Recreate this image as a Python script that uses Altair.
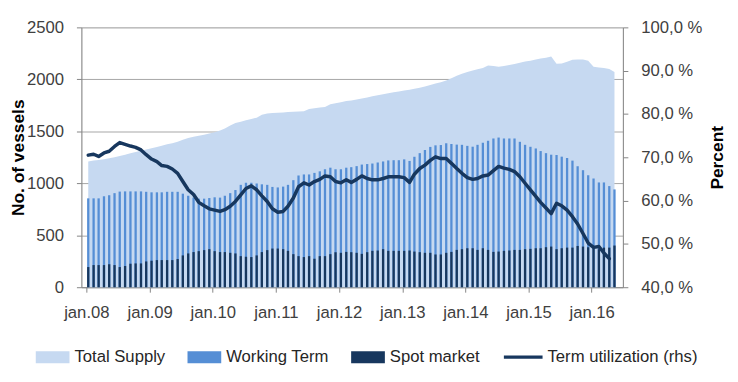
import altair as alt
import pandas as pd

# ---- data (monthly, jan.08 .. may.16) ----
total_supply = [
    1210, 1218, 1225, 1232, 1240, 1250, 1262, 1275, 1288, 1300, 1312, 1325,
    1338, 1350, 1362, 1375, 1385, 1400, 1420, 1435, 1448, 1458, 1468, 1478,
    1490, 1508, 1528, 1555, 1580, 1593, 1606, 1618, 1631, 1660, 1672, 1677,
    1679, 1682, 1685, 1688, 1690, 1694, 1715, 1722, 1728, 1735, 1760, 1770,
    1780, 1792, 1797, 1805, 1815, 1826, 1837, 1847, 1856, 1866, 1875, 1884,
    1893, 1900, 1910, 1920, 1930, 1945, 1960, 1972, 1990, 2010, 2035, 2055,
    2070, 2085, 2098, 2110, 2132, 2128, 2120, 2128, 2138, 2148, 2160, 2172,
    2180, 2192, 2200, 2208, 2220, 2150, 2152, 2170, 2188, 2192, 2190, 2178,
    2122, 2115, 2110, 2100, 2070,
]
working_term = [
    855, 855, 855, 875, 885, 905, 920, 922, 922, 922, 922, 918,
    913, 913, 913, 918, 918, 918, 900, 880, 862, 852, 852, 858,
    865, 862, 880, 905, 935, 985, 1005, 1005, 998, 990, 985, 965,
    960, 968, 985, 1030, 1075, 1085, 1085, 1100, 1115, 1135, 1150, 1135,
    1135, 1150, 1155, 1165, 1180, 1185, 1190, 1200, 1210, 1220, 1222, 1222,
    1230, 1215, 1255, 1290, 1320, 1350, 1365, 1368, 1385, 1378, 1372, 1370,
    1360, 1352, 1370, 1390, 1409, 1431, 1440, 1431, 1431, 1431, 1399, 1370,
    1351, 1335, 1310, 1290, 1275, 1272, 1256, 1243, 1218, 1164, 1126, 1078,
    1046, 1008, 1008, 973, 941,
]
spot_market = [
    194, 213, 213, 213, 221, 213, 194, 204, 226, 229, 229, 248,
    255, 261, 261, 261, 261, 271, 306, 325, 338, 347, 357, 366,
    347, 338, 338, 331, 325, 299, 293, 290, 306, 338, 357, 372,
    372, 366, 350, 318, 299, 290, 299, 274, 299, 299, 318, 337,
    331, 340, 337, 331, 321, 337, 350, 353, 366, 350, 350, 350,
    350, 353, 343, 337, 331, 331, 315, 315, 331, 340, 359, 366,
    375, 375, 359, 375, 359, 340, 343, 350, 353, 359, 359, 366,
    369, 375, 375, 385, 391, 366, 375, 381, 381, 397, 391, 385,
    375, 366, 381, 381, 401,
]
term_utilization = [
    70.5, 70.7, 70.2, 71.0, 71.4, 72.5, 73.4, 73.0, 72.6, 72.3, 71.7, 70.6,
    69.6, 69.0, 68.1, 67.9, 67.3, 66.3, 64.4, 62.5, 61.4, 59.6, 58.8, 58.1,
    57.8, 57.5, 57.9, 58.7, 59.8, 61.3, 62.8, 63.4, 62.5, 61.1, 59.8, 58.1,
    57.3, 57.5, 58.7, 60.6, 63.2, 64.1, 63.6, 64.4, 64.9, 65.7, 65.5, 64.4,
    64.1, 64.8, 64.2, 64.9, 65.7, 65.1, 64.8, 64.8, 65.1, 65.5, 65.5, 65.5,
    65.3, 64.2, 66.1, 67.4, 68.2, 69.3, 70.1, 69.7, 69.7, 68.6, 67.4, 66.3,
    65.3, 64.9, 65.1, 65.7, 65.9, 66.9, 67.9, 67.5, 67.2, 66.7, 65.5, 64.0,
    62.5, 61.0, 59.6, 58.3, 57.0, 59.4, 58.8, 57.8, 56.3, 54.6, 52.4, 50.2,
    49.2, 49.4, 47.9, 46.6,
]

series_names = ["Total Supply", "Working Term", "Spot market"]
line_name = "Term utilization (rhs)"
year_ticks = list(range(2008, 2017))
months = [f"{2008 + i // 12}-{i % 12 + 1:02d}-12" for i in range(len(total_supply))]

FONT = "Liberation Sans"
AXIS_GREY = "#868686"
LABEL = "#404040"

df_total = pd.DataFrame({"date": months, "value": total_supply, "series": series_names[0]})
df_work = pd.DataFrame({"date": months, "value": working_term, "series": series_names[1]})
df_spot = pd.DataFrame({"date": months, "value": spot_market, "series": series_names[2]})
df_line = pd.DataFrame({"date": months[:len(term_utilization)], "pct": term_utilization, "series": line_name})

x_enc = alt.X(
    "date:T",
    scale=alt.Scale(
        type="utc", nice=False,
        domain=[alt.DateTime(year=2008, month=1, date=1, utc=True),
                alt.DateTime(year=2016, month=6, date=1, utc=True)],
    ),
    axis=alt.Axis(
        values=[alt.DateTime(year=y, month=1, date=1, utc=True) for y in year_ticks],
        labelExpr="'jan.' + utcFormat(datum.value, '%y')",
        title=None, grid=False, labelFlush=False, labelOverlap=False,
        domainColor=AXIS_GREY, tickColor=AXIS_GREY, tickSize=5,
        labelFont=FONT, labelFontSize=16.8, labelColor=LABEL, labelPadding=13,
    ),
)

y_left = alt.Y(
    "value:Q",
    scale=alt.Scale(domain=[0, 2500], nice=False),
    axis=alt.Axis(
        orient="left", values=[0, 500, 1000, 1500, 2000, 2500], format="d",
        grid=True, gridColor="#A6A6A6", gridWidth=1,
        domainColor=AXIS_GREY, tickColor=AXIS_GREY, tickSize=5,
        labelFont=FONT, labelFontSize=16.8, labelColor=LABEL, labelPadding=13,
        title="No. of vessels", titleFont=FONT, titleFontSize=17.5,
        titleFontWeight="bold", titleColor="#000000", titleAngle=270,
        titleBaseline="alphabetic", titleX=-58,
    ),
)

fill_legend = alt.Legend(
    orient="none", legendX=-46, legendY=315.5, direction="horizontal", title=None,
    symbolType="M-1,-0.35H1V0.35H-1Z", symbolSize=1156, symbolStrokeWidth=0,
    labelFont=FONT, labelFontSize=16.8, labelColor="#262626", labelOffset=5,
    columnPadding=22, labelLimit=400,
)
fill_enc = alt.Fill(
    "series:N",
    scale=alt.Scale(domain=series_names, range=["#C6D9F1", "#558ED5", "#17375E"]),
    legend=fill_legend,
)

area = alt.Chart(df_total).mark_area(interpolate="linear", opacity=1).encode(
    x=x_enc, y=y_left, fill=fill_enc)
bars_work = alt.Chart(df_work).mark_bar(size=2.3, opacity=1).encode(
    x=x_enc, y=y_left, fill=fill_enc)
bars_spot = alt.Chart(df_spot).mark_bar(size=2.3, opacity=1).encode(
    x=x_enc, y=y_left, fill=fill_enc)

left_layer = alt.layer(area, bars_work, bars_spot)

line = alt.Chart(df_line).mark_line(strokeWidth=3.5, strokeJoin="round", strokeCap="round").encode(
    x=x_enc,
    y=alt.Y(
        "pct:Q",
        scale=alt.Scale(domain=[40, 100], nice=False),
        axis=alt.Axis(
            orient="right", values=[40, 50, 60, 70, 80, 90, 100],
            labelExpr="replace(format(datum.value, '.1f'), '.', ',') + ' %'",
            grid=False, domainColor=AXIS_GREY, tickColor=AXIS_GREY, tickSize=5,
            labelFont=FONT, labelFontSize=16.8, labelColor=LABEL, labelPadding=13,
            title="Percent", titleFont=FONT, titleFontSize=17.5,
            titleFontWeight="bold", titleColor="#000000", titleAngle=270,
            titleBaseline="alphabetic", titleX=100,
        ),
    ),
    stroke=alt.Stroke(
        "series:N",
        scale=alt.Scale(domain=[line_name], range=["#17375E"]),
        legend=alt.Legend(
            orient="none", legendX=424, legendY=311, title=None,
            symbolType="stroke", symbolSize=1521, symbolStrokeWidth=3.5,
            labelFont=FONT, labelFontSize=16.8, labelColor="#262626",
            labelOffset=3, labelLimit=400,
        ),
    ),
)

chart = alt.layer(left_layer, line).resolve_scale(y="independent").properties(
    width=546,
    height=262,
    padding={"left": 74, "top": 18, "right": 108, "bottom": 90},
    autosize=alt.AutoSizeParams(type="none"),
).configure_view(stroke=None).configure(background="white")

chart.save("out.html", embed_options={"renderer": "svg", "actions": False})
